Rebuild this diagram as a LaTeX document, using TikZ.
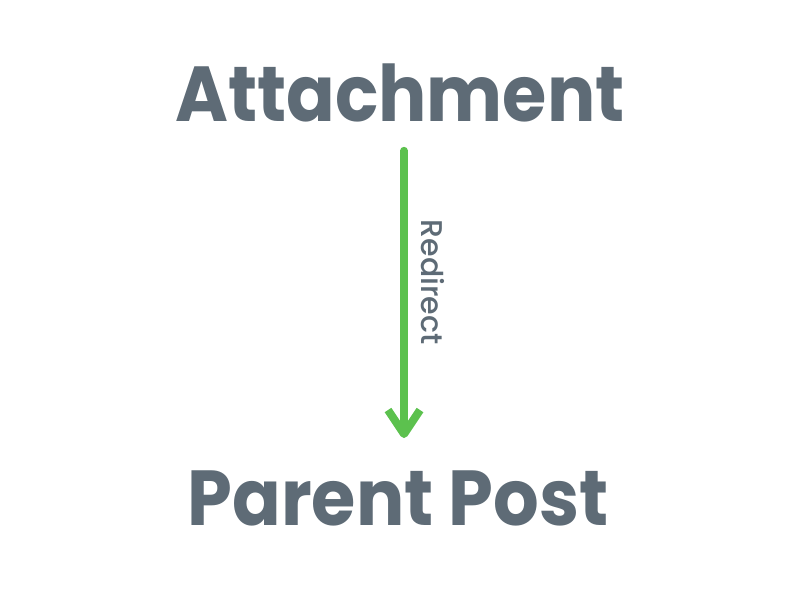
\documentclass[tikz,border=0pt]{standalone}
\usepackage{fontspec}
\setmainfont{Poppins}
\newfontfamily\headfont{Poppins}[FakeStretch=0.92]
\newfontfamily\tagfont{Poppins Medium}
\usepackage{xcolor}
\usepackage{tikz}
\usetikzlibrary{arrows.meta}

\definecolor{slate}{HTML}{5E6B76}
\definecolor{leaf}{HTML}{5CC14E}

\tikzset{
  title/.style={text=slate, font=\headfont\fontsize{78}{80}\selectfont\bfseries, inner sep=0pt, anchor=base},
  redirect/.style={draw=leaf, line width=8pt, line cap=round,
    -{Straight Barb[length=24pt, width=32pt, line join=round]}},
  tag/.style={text=slate, font=\tagfont\fontsize{30}{32}\selectfont, inner sep=0pt, rotate=-90}
}

\begin{document}
\begin{tikzpicture}[x=1pt, y=1pt]
\useasboundingbox (0,0) rectangle (800,598);
\node[title] (attach) at (400,476) {Attachment};
\node[title] (parent) at (398,73) {Parent Post};
\draw[redirect, shorten <=28pt, shorten >=32pt] ([xshift=4pt]attach.south) -- ([xshift=6pt]parent.north);
\node[tag] (label) at (433,316) {Redirect};
\end{tikzpicture}
\end{document}
